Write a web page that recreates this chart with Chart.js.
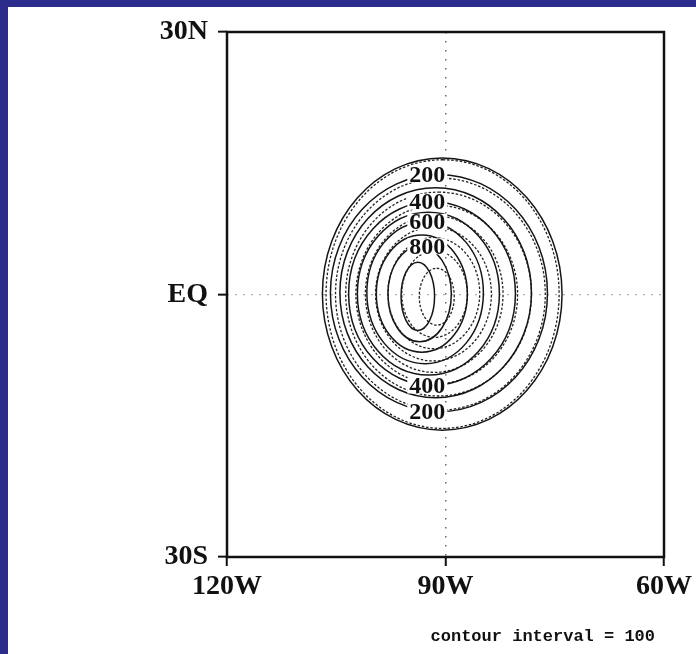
<!DOCTYPE html>
<html>
<head>
<meta charset="utf-8">
<script src="https://cdn.jsdelivr.net/npm/chart.js@4/dist/chart.umd.min.js"></script>
<style>
  html, body { margin: 0; padding: 0; background: #2c2c8c; }
  canvas { display: block; }
</style>
</head>
<body>
<canvas id="chart" width="696" height="654"></canvas>
<script>
// Contour levels of the two fields (solid and dashed), interval 100
const levels = [100, 200, 300, 400, 500, 600, 700, 800, 900];

// Extents of each closed contour: west/east edge (degrees longitude, negative = W)
// and north/south edge (degrees latitude, negative = S)
const solidWest  = [-106.9, -105.8, -104.5, -103.3, -102.1, -100.8, -99.5, -97.9, -96.1];
const solidEast  = [-74.0, -76.0, -78.2, -80.4, -82.6, -84.8, -87.0, -89.2, -91.5];
const solidNorth = [15.6, 13.7, 12.2, 10.6, 9.4, 8.3, 6.8, 5.5, 3.7];
const solidSouth = [-15.5, -13.4, -11.8, -10.4, -9.2, -7.9, -6.6, -5.4, -4.1];

const dashedWest  = [-106.4, -105.1, -103.7, -102.3, -101.0, -99.6, -97.9, -96.0, -93.6];
const dashedEast  = [-74.4, -76.3, -78.2, -80.1, -82.1, -83.7, -85.3, -87.0, -88.8];
const dashedNorth = [15.4, 13.3, 11.7, 10.2, 9.0, 7.7, 6.5, 5.0, 3.0];
const dashedSouth = [-15.3, -13.2, -11.6, -10.2, -8.9, -7.6, -6.2, -4.9, -3.5];

// Labelled contours: level and whether the label sits on the north or south edge
const labelLevels = [200, 400, 600, 800, 400, 200];
const labelSides  = ['N', 'N', 'N', 'N', 'S', 'S'];
const labelLon = -92.5;

// Axis ticks
const xTickValues = [-120, -90, -60];
const xTickLabels = ['120W', '90W', '60W'];
const yTickValues = [-30, 0, 30];
const yTickLabels = ['30S', 'EQ', '30N'];

const footerText = 'contour interval = 100';

// One closed contour: points at its N, E, S and W edges, joined by a closed spline
function contourPoints(w, e, n, s) {
  const midLon = (w + e) / 2;
  const midLat = (n + s) / 2;
  return [
    { x: midLon, y: n },
    { x: e, y: midLat },
    { x: midLon, y: s },
    { x: w, y: midLat }
  ];
}

const datasets = [];
levels.forEach((lev, i) => {
  datasets.push({
    label: 'solid ' + lev,
    data: contourPoints(solidWest[i], solidEast[i], solidNorth[i], solidSouth[i]),
    showLine: true,
    borderColor: '#151515',
    borderWidth: 1.5,
    tension: 0.5523,
    pointRadius: 0,
    closedContour: true
  });
  datasets.push({
    label: 'dashed ' + lev,
    data: contourPoints(dashedWest[i], dashedEast[i], dashedNorth[i], dashedSouth[i]),
    showLine: true,
    borderColor: '#222222',
    borderWidth: 1.3,
    borderDash: [2.5, 1.8],
    tension: 0.5523,
    pointRadius: 0,
    closedContour: true
  });
});

// Close every contour line into a loop, as the radar controller does for its lines
const closeContours = {
  id: 'closeContours',
  afterDatasetUpdate(chart, args) {
    const line = args.meta.dataset;
    if (line && chart.data.datasets[args.index].closedContour) {
      line._loop = true;
      line._fullLoop = true;
      line._segments = undefined;
      line._path = undefined;
      line._pointsUpdated = false;
    }
  }
};

// Page panel behind the plot
const panel = {
  id: 'panel',
  beforeDraw(chart) {
    const ctx = chart.ctx;
    ctx.save();
    ctx.fillStyle = '#2c2c8c';
    ctx.fillRect(0, 0, chart.width, chart.height);
    ctx.fillStyle = '#ffffff';
    ctx.fillRect(8, 7, chart.width - 8, chart.height - 7);
    ctx.restore();
  }
};

// Contour labels on white boxes, plus the frame and the footer note
const annotate = {
  id: 'annotate',
  afterDatasetsDraw(chart) {
    const ctx = chart.ctx;
    const xs = chart.scales.x, ys = chart.scales.y;
    ctx.save();
    ctx.font = 'bold 24px "Liberation Serif", serif';
    ctx.textAlign = 'center';
    ctx.textBaseline = 'middle';
    labelLevels.forEach((lev, k) => {
      const i = levels.indexOf(lev);
      const lat = labelSides[k] === 'N' ? solidNorth[i] : solidSouth[i];
      const px = xs.getPixelForValue(labelLon);
      const py = ys.getPixelForValue(lat);
      const w = ctx.measureText(String(lev)).width;
      ctx.fillStyle = '#ffffff';
      ctx.fillRect(px - w / 2 - 2, py - 8, w + 4, 16);
      ctx.fillStyle = '#111111';
      ctx.fillText(String(lev), px, py + 1);
    });
    ctx.restore();
  },
  afterDraw(chart) {
    const ctx = chart.ctx;
    const a = chart.chartArea;
    ctx.save();
    ctx.setLineDash([]);
    ctx.strokeStyle = '#111111';
    ctx.lineWidth = 2.5;
    ctx.strokeRect(a.left, a.top, a.right - a.left, a.bottom - a.top);
    ctx.fillStyle = '#111111';
    ctx.font = 'bold 17px "Liberation Mono", monospace';
    ctx.textAlign = 'right';
    ctx.textBaseline = 'alphabetic';
    ctx.fillText(footerText, 655, 641);
    ctx.restore();
  }
};

const tickFont = { family: '"Liberation Serif", serif', size: 28, weight: 'bold' };

new Chart(document.getElementById('chart'), {
  type: 'scatter',
  data: { datasets },
  options: {
    responsive: false,
    devicePixelRatio: 1,
    animation: false,
    layout: { padding: { top: 32, right: 31, bottom: 0, left: 0 } },
    plugins: { legend: { display: false }, tooltip: { enabled: false } },
    scales: {
      x: {
        type: 'linear',
        position: 'bottom',
        min: -120,
        max: -60,
        afterBuildTicks: (s) => { s.ticks = xTickValues.map(v => ({ value: v })); },
        afterFit: (s) => { s.height = 97; },
        ticks: {
          callback: (v) => xTickLabels[xTickValues.indexOf(v)],
          font: tickFont,
          color: '#111111',
          padding: 4,
          maxRotation: 0,
          autoSkip: false
        },
        grid: {
          color: (c) => (c.tick && c.tick.value === -90 ? '#6a6a6a' : 'rgba(0,0,0,0)'),
          lineWidth: 1.5,
          tickColor: '#111111',
          tickWidth: 2,
          tickLength: 9,
          tickBorderDash: []
        },
        border: { display: false, dash: [1.5, 7.5] }
      },
      y: {
        type: 'linear',
        min: -30,
        max: 30,
        afterBuildTicks: (s) => { s.ticks = yTickValues.map(v => ({ value: v })); },
        afterFit: (s) => { s.width = 227; },
        ticks: {
          callback: (v) => yTickLabels[yTickValues.indexOf(v)],
          font: tickFont,
          color: '#111111',
          padding: 10,
          autoSkip: false
        },
        grid: {
          color: (c) => (c.tick && c.tick.value === 0 ? '#b0b0b0' : 'rgba(0,0,0,0)'),
          lineWidth: 1.3,
          tickColor: '#111111',
          tickWidth: 2,
          tickLength: 9,
          tickBorderDash: []
        },
        border: { display: false, dash: [2, 6] }
      }
    }
  },
  plugins: [panel, closeContours, annotate]
});
</script>
</body>
</html>
